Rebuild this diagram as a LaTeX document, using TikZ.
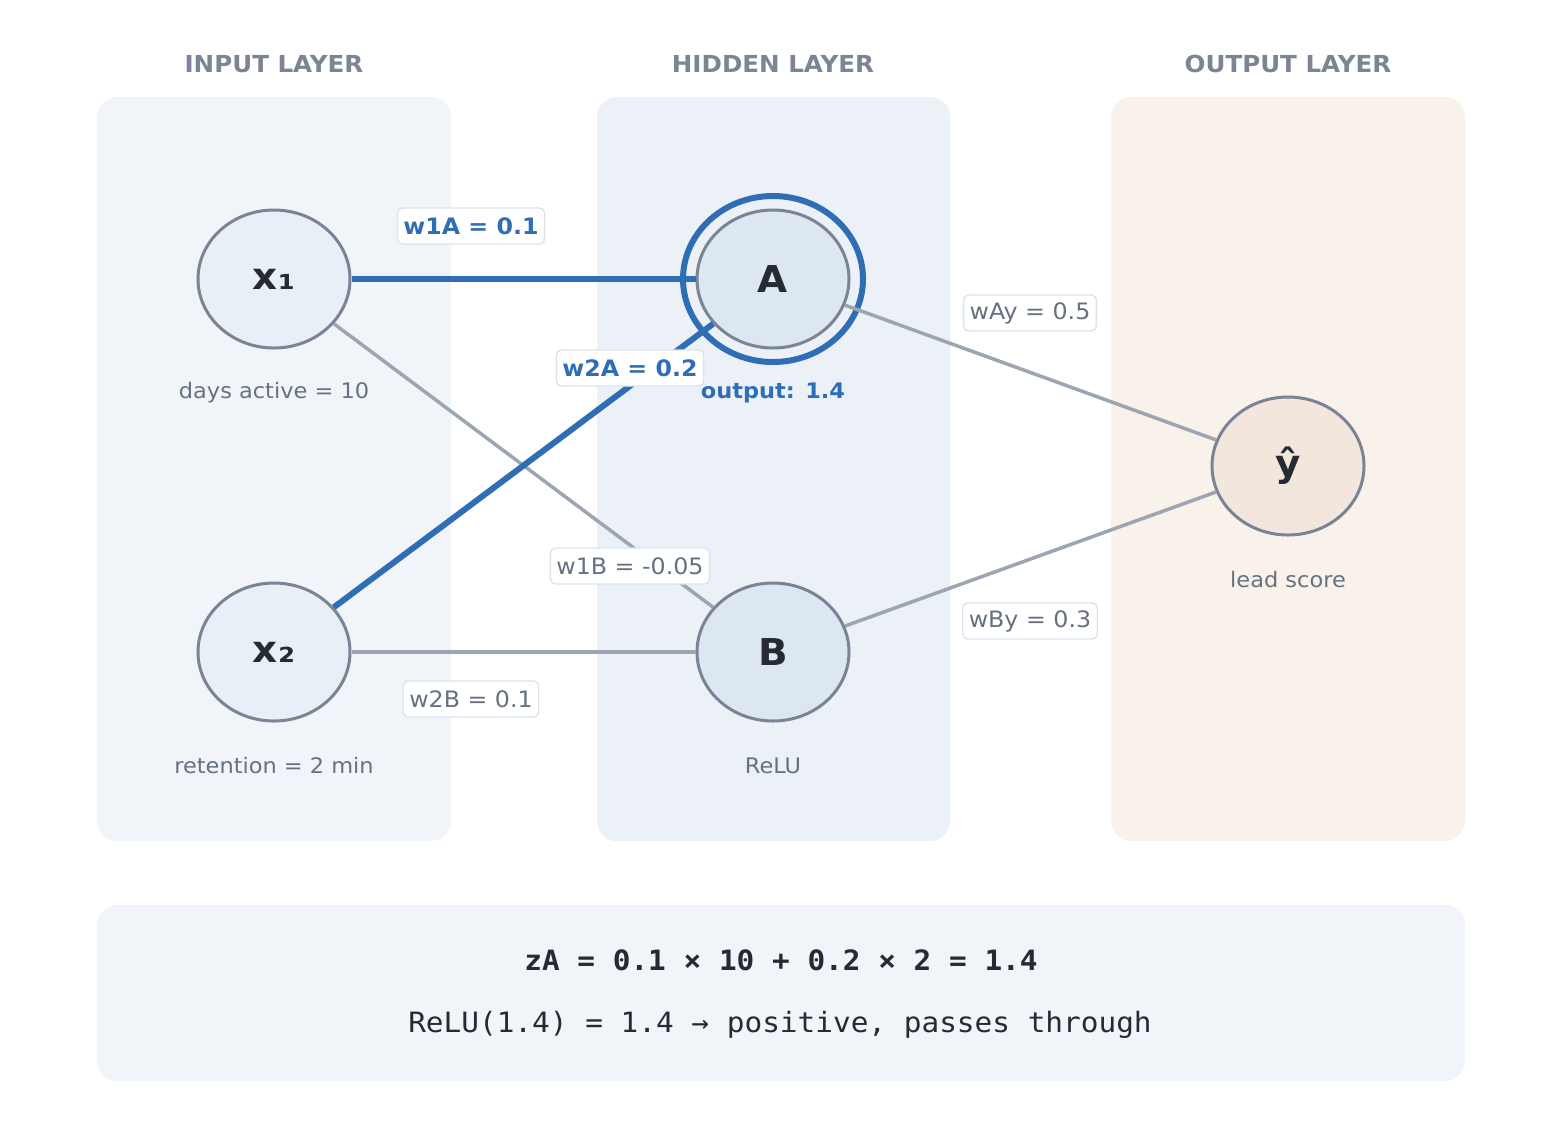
\documentclass[tikz,border=0pt]{standalone}
\usepackage{fontspec}
\setmainfont{DejaVu Sans}[FakeStretch=1.05]
\setmonofont{DejaVu Sans Mono}[FakeStretch=1.05]
\usepackage{tikz}
\usetikzlibrary{positioning}
\usetikzlibrary{shapes.geometric}
\definecolor{panin}{HTML}{F1F5FA}
\definecolor{panhid}{HTML}{ECF1F8}
\definecolor{panout}{HTML}{F9F2EB}
\definecolor{headgray}{HTML}{7B8594}
\definecolor{nodeline}{HTML}{7A8494}
\definecolor{fillin}{HTML}{E9EFF7}
\definecolor{fillhid}{HTML}{DCE7F2}
\definecolor{fillout}{HTML}{F3E6DC}
\definecolor{hotblue}{HTML}{2F6EB5}
\definecolor{edgegray}{HTML}{9CA6B2}
\definecolor{lblgray}{HTML}{667181}
\definecolor{lblline}{HTML}{DCE4EE}
\definecolor{ink}{HTML}{262B33}
\tikzset{
  lay_box/.style = {rounded corners=10pt, draw=none},% fond de couche
  lay_head/.style = {font=\bfseries\fontsize{11.7}{14}\selectfont,
    text=headgray},
  neu/.style = {ellipse, draw=nodeline, line width=1.5pt,
    minimum width=76pt, minimum height=69pt, inner sep=0pt,
    text=ink, font=\bfseries\fontsize{18.5}{20}\selectfont},
  neu_in/.style = {neu, fill=fillin},% neurone d'entree
  neu_hid/.style = {neu, fill=fillhid},% neurone cache
  neu_out/.style = {neu, fill=fillout},% neurone de sortie
  sub_txt/.style = {font=\fontsize{10.7}{12}\selectfont, text=lblgray},
  w_lbl/.style = {draw=lblline, line width=0.7pt, fill=white,
    rounded corners=2.5pt, inner xsep=3pt, inner ysep=0pt,
    minimum height=18pt, text=lblgray,
    font=\fontsize{11.3}{14}\selectfont},% poids, inactif
  w_hot/.style = {w_lbl, text=hotblue,
    font=\bfseries\fontsize{11.3}{14}\selectfont},% poids, actif
  e_cold/.style = {draw=edgegray, line width=1.75pt},
  e_hot/.style = {draw=hotblue, line width=3pt}
}
\begin{document}
\begin{tikzpicture}[x=0.5pt,y=-0.5pt]
\useasboundingbox[fill=white] (0,0) rectangle (1546,1132);
% couches
\fill[lay_box, panin] (97,97) rectangle (451,841);
\fill[lay_box, panhid] (597,97) rectangle (950,841);
\fill[lay_box, panout] (1111,97) rectangle (1465,841);
\fill[lay_box, panin] (97,905) rectangle (1465,1081);
\node[lay_head] (hin) at (274,64) {INPUT LAYER};
\node[lay_head] (hhid) at (773,64) {HIDDEN LAYER};
\node[lay_head] (hout) at (1288,64) {OUTPUT LAYER};
% neurones
\node[neu_in] (x1) at (274,279) {x₁};
\node[neu_in] (x2) at (274,652) {x₂};
\node[neu_hid] (A) at (773,279) {A};
\node[neu_hid] (B) at (773,652) {B};
\node[neu_out] (y) at (1288,466) {ŷ};
\node[ellipse, draw=hotblue, line width=3pt, minimum width=90pt,
  minimum height=83pt] (ringA) at (A) {};
% connexions
\draw[e_cold] (x1) -- (B);
\draw[e_cold] (x2) -- (B);
\draw[e_cold] (A) -- (y);
\draw[e_cold] (B) -- (y);
\draw[e_hot] (x1) -- (A);
\draw[e_hot] (x2) -- (A);
% poids
\node[w_hot] (l1A) at (471,226) {w1A = 0.1};
\node[w_hot] (l2A) at (630,368) {w2A = 0.2};
\node[w_lbl] (l1B) at (630,566) {w1B = -0.05};
\node[w_lbl] (l2B) at (471,699) {w2B = 0.1};
\node[w_lbl] (lAy) at (1030,313) {wAy = 0.5};
\node[w_lbl] (lBy) at (1030,621) {wBy = 0.3};
% legendes
\node[sub_txt] (s1) at (274,393) {days active = 10};
\node[sub_txt] (s2) at (274,766) {retention = 2 min};
\node[sub_txt, text=hotblue, font=\bfseries\fontsize{10.7}{12}\selectfont]
  (sA) at (773,393) {output: 1.4};
\node[sub_txt] (sB) at (773,766) {ReLU};
\node[sub_txt] (sy) at (1288,580) {lead score};
% calcul
\node[text=ink, font=\ttfamily\bfseries\fontsize{14}{16}\selectfont]
  (eq1) at (781,960) {zA = 0.1 × 10 + 0.2 × 2 = 1.4};
\node[text=ink, font=\ttfamily\fontsize{14}{16}\selectfont]
  (eq2) at (780,1025) {ReLU(1.4) = 1.4 → positive, passes through};
\end{tikzpicture}
\end{document}
